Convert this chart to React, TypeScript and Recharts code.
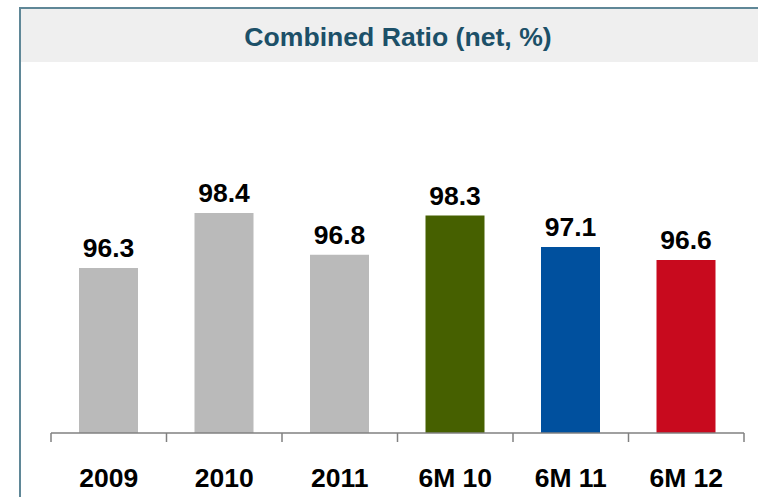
import { BarChart, Bar, XAxis, YAxis, Cell, LabelList } from 'recharts'

const categories = ['2009', '2010', '2011', '6M 10', '6M 11', '6M 12']
const ratios = [96.3, 98.4, 96.8, 98.3, 97.1, 96.6]

const BAR_COLORS = ['#bababa', '#bababa', '#bababa', '#466000', '#00509e', '#c80a1e']
const FONT = '"Liberation Sans", Arial, Helvetica, sans-serif'
const AXIS_GREY = '#808080'

const data = categories.map((name, i) => ({ name, value: ratios[i] }))

// category label plus tick marks drawn on the band edges, not the centers
const BoundaryTick = (props: any) => {
  const { x, y, payload, index } = props
  const half = payload?.offset ?? 57.75
  const last = index === categories.length - 1
  return (
    <g>
      <line x1={x - half} y1={y} x2={x - half} y2={y + 9} stroke={AXIS_GREY} strokeWidth={1.5} />
      {last && <line x1={x + half} y1={y} x2={x + half} y2={y + 9} stroke={AXIS_GREY} strokeWidth={1.5} />}
      <text
        x={x}
        y={y + 54}
        textAnchor="middle"
        fontFamily={FONT}
        fontSize={26.5}
        fontWeight="bold"
        fill="#000"
      >
        {payload.value}
      </text>
    </g>
  )
}

export default function App() {
  return (
    <div
      style={{
        position: 'absolute',
        left: 0,
        top: 0,
        width: 758,
        height: 497,
        overflow: 'hidden',
        background: '#fff',
        fontFamily: FONT,
      }}
    >
      <div style={{ position: 'absolute', left: 21, top: 9, width: 737, height: 53, background: '#efefef' }} />
      <div style={{ position: 'absolute', left: 19, top: 7, width: 739, height: 2, background: '#5f8797' }} />
      <div style={{ position: 'absolute', left: 19, top: 7, width: 2, height: 490, background: '#5f8797' }} />
      <div
        style={{
          position: 'absolute',
          left: 0,
          top: 23.5,
          width: 796,
          textAlign: 'center',
          fontSize: 26.6,
          lineHeight: 1,
          fontWeight: 'bold',
          color: '#1c5068',
          whiteSpace: 'nowrap',
        }}
      >
        Combined Ratio (net, %)
      </div>

      <div style={{ position: 'absolute', left: 0, top: 0 }}>
        <BarChart
          width={758}
          height={497}
          data={data}
          margin={{ top: 171, right: 14, bottom: 0, left: 51 }}
        >
          <YAxis hide domain={[90, 100]} allowDataOverflow />
          <XAxis
            dataKey="name"
            height={64}
            axisLine={{ stroke: AXIS_GREY, strokeWidth: 1.5 }}
            tickLine={false}
            tickSize={0}
            tickMargin={0}
            interval={0}
            tick={<BoundaryTick />}
          />
          <Bar dataKey="value" barSize={59} isAnimationActive={false}>
            {data.map((_, i) => (
              <Cell key={`c-${i}`} fill={BAR_COLORS[i]} />
            ))}
            <LabelList
              dataKey="value"
              position="top"
              offset={11}
              fill="#000"
              fontFamily={FONT}
              fontSize={26.5}
              fontWeight="bold"
              formatter={(v: any) => Number(v).toFixed(1)}
            />
          </Bar>
        </BarChart>
      </div>
    </div>
  )
}
